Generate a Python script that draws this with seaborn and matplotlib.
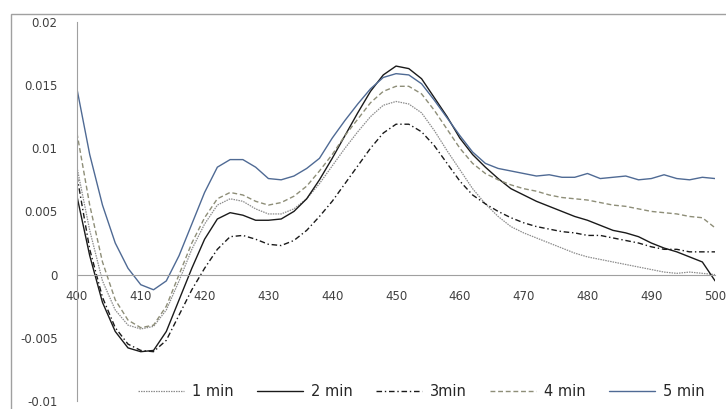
import numpy as np
import pandas as pd
import matplotlib
matplotlib.use('Agg')
import matplotlib.pyplot as plt
import seaborn as sns
from matplotlib.patches import Rectangle

# wavelength (nm), 2 nm steps
wavelength = list(range(400, 501, 2))

min1 = [0.0085, 0.0035, -0.0005, -0.0028, -0.0040, -0.0043, -0.0041, -0.0028, -0.0005, 0.0020,
        0.0040, 0.0055, 0.0060, 0.0058, 0.0052, 0.0048, 0.0048, 0.0052, 0.0060, 0.0072,
        0.0086, 0.0100, 0.0113, 0.0125, 0.0134, 0.0137, 0.0135, 0.0128, 0.0114, 0.0098,
        0.0083, 0.0068, 0.0056, 0.0046, 0.0038, 0.0033, 0.0029, 0.0025, 0.0021, 0.0017,
        0.0014, 0.0012, 0.0010, 0.0008, 0.0006, 0.0004, 0.0002, 0.0001, 0.0002, 0.0001, 0.0000]
min2 = [0.0062, 0.0015, -0.0022, -0.0045, -0.0058, -0.0061, -0.0060, -0.0045, -0.0020, 0.0005,
        0.0028, 0.0044, 0.0049, 0.0047, 0.0043, 0.0043, 0.0044, 0.0050, 0.0060, 0.0075,
        0.0092, 0.0110, 0.0128, 0.0145, 0.0158, 0.0165, 0.0163, 0.0155, 0.0140, 0.0125,
        0.0108, 0.0095, 0.0085, 0.0076, 0.0068, 0.0063, 0.0058, 0.0054, 0.0050, 0.0046,
        0.0043, 0.0039, 0.0035, 0.0033, 0.0030, 0.0025, 0.0021, 0.0018, 0.0014, 0.0010, -0.0005]
min3 = [0.0078, 0.0020, -0.0018, -0.0042, -0.0055, -0.0060, -0.0061, -0.0052, -0.0032, -0.0012,
        0.0005, 0.0020, 0.0030, 0.0031, 0.0028, 0.0024, 0.0023, 0.0027, 0.0035, 0.0046,
        0.0058, 0.0072, 0.0086, 0.0100, 0.0112, 0.0119, 0.0119, 0.0113, 0.0102, 0.0088,
        0.0074, 0.0063, 0.0056, 0.0050, 0.0045, 0.0041, 0.0038, 0.0036, 0.0034, 0.0033,
        0.0031, 0.0031, 0.0029, 0.0027, 0.0025, 0.0022, 0.0020, 0.0020, 0.0018, 0.0018, 0.0018]
min4 = [0.0112, 0.0055, 0.0010, -0.0020, -0.0036, -0.0042, -0.0040, -0.0025, 0.0000, 0.0025,
        0.0045, 0.0060, 0.0065, 0.0063, 0.0058, 0.0055, 0.0057, 0.0062, 0.0070, 0.0082,
        0.0095, 0.0110, 0.0123, 0.0136, 0.0145, 0.0149, 0.0149, 0.0143, 0.0130, 0.0115,
        0.0100, 0.0088, 0.0080, 0.0075, 0.0071, 0.0068, 0.0066, 0.0063, 0.0061, 0.0060,
        0.0059, 0.0057, 0.0055, 0.0054, 0.0052, 0.0050, 0.0049, 0.0048, 0.0046, 0.0045, 0.0037]
min5 = [0.0147, 0.0095, 0.0055, 0.0025, 0.0005, -0.0008, -0.0012, -0.0005, 0.0015, 0.0040,
        0.0065, 0.0085, 0.0091, 0.0091, 0.0085, 0.0076, 0.0075, 0.0078, 0.0084, 0.0092,
        0.0108, 0.0122, 0.0135, 0.0147, 0.0156, 0.0159, 0.0158, 0.0151, 0.0138, 0.0124,
        0.0110, 0.0097, 0.0088, 0.0084, 0.0082, 0.0080, 0.0078, 0.0079, 0.0077, 0.0077,
        0.0080, 0.0076, 0.0077, 0.0078, 0.0075, 0.0076, 0.0079, 0.0076, 0.0075, 0.0077, 0.0076]

labels = ['1 min', '2 min', '3min', '4 min', '5 min']
colors = ['#8c8c8c', '#1a1a1a', '#1a1a1a', '#8e8e78', '#4f6a94']
dashes = [(1.2, 0.8), (), (4, 2, 1, 2), (3.5, 2), ()]
widths = [0.9, 1.0, 1.0, 1.0, 1.0]

df = pd.DataFrame({'wavelength': wavelength, '1 min': min1, '2 min': min2,
                   '3min': min3, '4 min': min4, '5 min': min5})
long = df.melt(id_vars='wavelength', var_name='time', value_name='abs')

sns.set_style('white')
fig = plt.figure(figsize=(7.26, 4.09), dpi=100)
ax = fig.add_axes([0.106, 0.0196, 0.879, 0.927])

for lab, col, d, w in zip(labels, colors, dashes, widths):
    sub = long[long['time'] == lab]
    sns.lineplot(data=sub, x='wavelength', y='abs', color=col, lw=w, ax=ax, label=lab)
    ln = ax.lines[-1]
    if d:
        ln.set_dashes(d)

ax.set_xlim(400, 500)
ax.set_ylim(-0.01, 0.02)
ax.set_xticks(range(400, 501, 10))
ax.set_yticks([-0.01, -0.005, 0, 0.005, 0.01, 0.015, 0.02])
ax.set_yticklabels(['-0.01', '-0.005', '0', '0.005', '0.01', '0.015', '0.02'])
ax.set_xlabel('')
ax.set_ylabel('')

for s in ['top', 'right']:
    ax.spines[s].set_visible(False)
ax.spines['bottom'].set_position(('data', 0))
ax.spines['bottom'].set_color('#a0a0a0')
ax.spines['left'].set_color('#a0a0a0')
ax.tick_params(axis='x', length=0, pad=11, labelsize=8.5, labelcolor='#404040')
ax.tick_params(axis='y', length=0, pad=14, labelsize=8.5, labelcolor='#404040')

ax.get_legend().remove()
handles, labs = ax.get_legend_handles_labels()
fig.legend(handles, labs, loc='center', bbox_to_anchor=(421 / 726, 1 - 392 / 409),
           ncol=5, frameon=False, fontsize=10.5, handlelength=3.2, columnspacing=1.6,
           handletextpad=0.5)

fig.patches.append(Rectangle((11 / 726, -0.05), 1.1, 1 - 14 / 409 + 0.05, transform=fig.transFigure,
                             fill=False, edgecolor='#a0a0a0', lw=1.0))

fig.savefig('out.png', dpi=100)
